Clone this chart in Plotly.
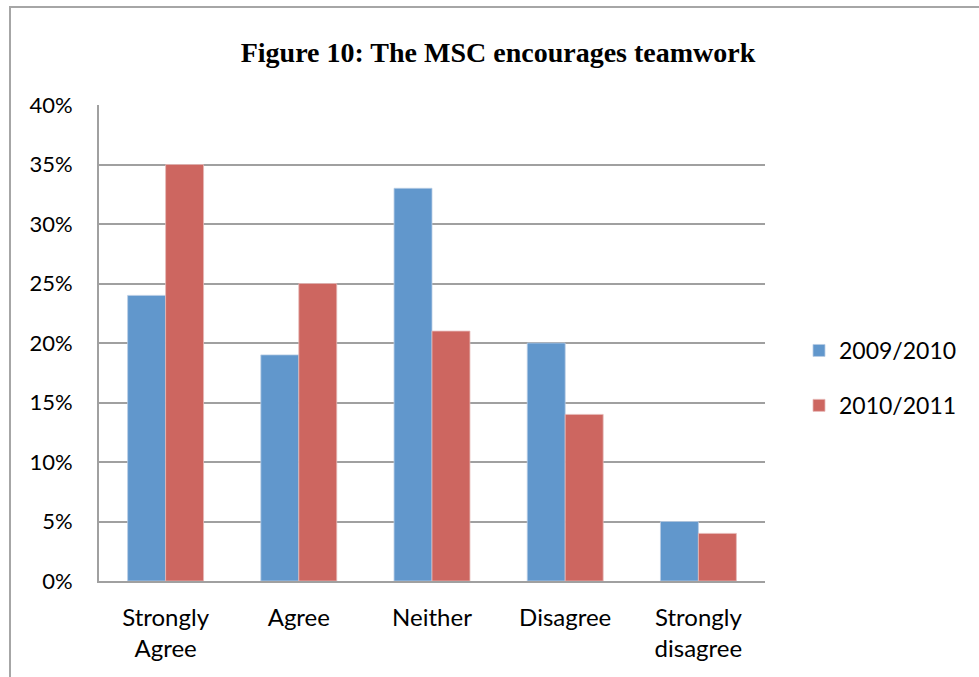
import plotly.graph_objects as go

categories = ["Strongly<br>Agree", "Agree", "Neither", "Disagree", "Strongly<br>disagree"]
series_names = ["2009/2010", "2010/2011"]
values_2009_2010 = [0.24, 0.19, 0.33, 0.20, 0.05]
values_2010_2011 = [0.35, 0.25, 0.21, 0.14, 0.04]
y_ticks = [0, 0.05, 0.10, 0.15, 0.20, 0.25, 0.30, 0.35, 0.40]

blue = "#6197CC"
red = "#CD6660"
grid = "#A0A0A0"
family = "Lato, Carlito, Calibri, sans-serif"
y_font = dict(family=family, size=22, color="#000000")
x_font = dict(family=family, size=24, color="#000000")
legend_font = dict(family=family, size=23, color="#000000")

fig = go.Figure()
fig.add_trace(go.Bar(x=categories, y=values_2009_2010, name=series_names[0], legendgroup="a",
                     marker=dict(color=blue, line=dict(color="#B9CDE5", width=0.8))))
fig.add_trace(go.Bar(x=categories, y=values_2010_2011, name=series_names[1], legendgroup="b",
                     marker=dict(color=red, line=dict(color="#E6B9B8", width=0.8))))

W, H = 979, 677
L, R, T, B = 99, 765, 105, 581
pw, ph = R - L, B - T

# outer chart frame, partly running past the page edges
fig.add_shape(type="rect", xref="paper", yref="paper",
              x0=(10 - L) / pw, x1=(W + 20 - L) / pw,
              y0=(B - (H + 20)) / ph, y1=(B - 7) / ph,
              line=dict(color="#A6A6A6", width=2), fillcolor="rgba(0,0,0,0)", layer="below")

fig.update_layout(
    width=W, height=H,
    margin=dict(l=L, r=W - R, t=T, b=H - B, pad=0),
    paper_bgcolor="white", plot_bgcolor="white",
    barmode="group", bargap=0.43, bargroupgap=0,
    title=dict(text="<b>Figure 10: The MSC encourages teamwork</b>",
               font=dict(family="Liberation Serif, Times New Roman, serif", size=28, color="#000000"),
               x=498 / W, xanchor="center", y=1 - 52 / H, yanchor="middle"),
    legend=dict(x=(799 - L) / pw, xanchor="left", y=(B - 378) / ph, yanchor="middle",
                font=legend_font, tracegroupgap=22, itemwidth=30,
                bgcolor="rgba(0,0,0,0)"),
    showlegend=True,
)
fig.update_xaxes(showline=True, linecolor=grid, linewidth=2, showgrid=False,
                 ticks="", tickfont=x_font, ticklabelstandoff=14)
fig.update_yaxes(range=[0, 0.40], tickvals=y_ticks, tickformat=".0%",
                 showline=True, linecolor=grid, linewidth=2,
                 showgrid=True, gridcolor=grid, gridwidth=2,
                 ticks="", tickfont=y_font, ticklabelstandoff=20, zeroline=False)

fig.write_html("out.html")
